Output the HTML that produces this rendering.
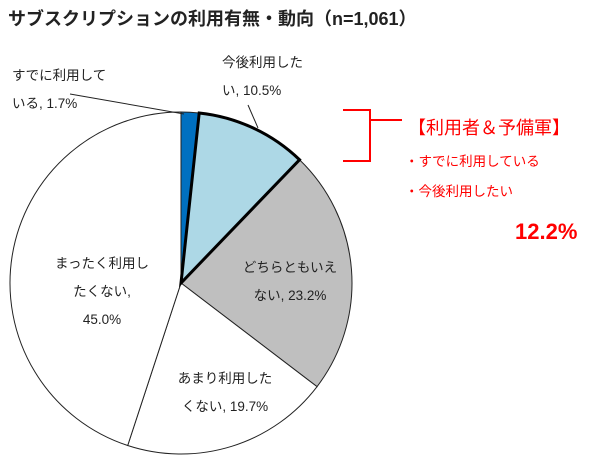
<!DOCTYPE html>
<html><head><meta charset="utf-8"><style>
body{margin:0;background:#fff;width:600px;height:467px;overflow:hidden;font-family:"Liberation Sans","Noto Sans CJK JP",sans-serif;}
</style></head><body>
<svg width="600" height="467" style="font-family:'Liberation Sans','Noto Sans CJK JP',sans-serif">
<text x="8" y="25" font-size="18" font-weight="bold" fill="#222">サブスクリプションの利用有無・動向（n=1,061）</text>
<g id="slices"></g>
<g id="labels" font-size="13.5" fill="#222"></g>
<line x1="70" y1="94" x2="184" y2="114" stroke="#222" stroke-width="1"/>
<line x1="248" y1="105" x2="258" y2="128" stroke="#222" stroke-width="1"/>
<path d="M343 110 H370 V161 H343 M370 120 H402" fill="none" stroke="#f00" stroke-width="2"/>
<text x="408" y="134" font-size="18" fill="#f00">【利用者＆予備軍】</text>
<text x="405" y="166" font-size="13.5" fill="#f00">・すでに利用している</text>
<text x="405" y="196" font-size="13.5" fill="#f00">・今後利用したい</text>
<text x="515" y="239" font-size="22" font-weight="bold" fill="#f00">12.2%</text>
</svg>
<script>
const categories=["すでに利用している","今後利用したい","どちらともいえない","あまり利用したくない","まったく利用したくない"];
const values=[1.7,10.5,23.2,19.7,45.0];
const colors=["#0070c0","#add8e6","#bfbfbf","#ffffff","#ffffff"];
const labelLines=[["すでに利用して","いる, 1.7%"],["今後利用した","い, 10.5%"],["どちらともいえ","ない, 23.2%"],["あまり利用した","くない, 19.7%"],["まったく利用し","たくない,","45.0%"]];
const labelPos=[[12,80,"start"],[222,67,"start"],[290,272,"middle"],[225,383,"middle"],[102,268,"middle"]];
const cx=181,cy=283,r=171;
const ns="http://www.w3.org/2000/svg";
const total=values.reduce((a,b)=>a+b,0);
function pt(frac){const a=frac*2*Math.PI;return [cx+r*Math.sin(a),cy-r*Math.cos(a)];}
let acc=0;const g=document.getElementById('slices');
const paths=[];
values.forEach((v,i)=>{
 const s=acc/total,e=(acc+v)/total;acc+=v;
 const p0=pt(s),p1=pt(e);const large=(e-s)>0.5?1:0;
 const p=document.createElementNS(ns,'path');
 p.setAttribute('d',`M${cx},${cy} L${p0[0]},${p0[1]} A${r},${r} 0 ${large} 1 ${p1[0]},${p1[1]} Z`);
 p.setAttribute('fill',colors[i]);
 p.setAttribute('stroke',i==1?'#000':'#222');
 p.setAttribute('stroke-width',i==1?3:1);
 
 
 paths.push(p);
});
paths.forEach((p,i)=>{if(i!=1)g.appendChild(p);});g.appendChild(paths[1]);
const lg=document.getElementById('labels');
labelLines.forEach((lines,i)=>{
 lines.forEach((t,j)=>{
  const tx=document.createElementNS(ns,'text');
  tx.setAttribute('x',labelPos[i][0]);tx.setAttribute('y',labelPos[i][1]+j*28);
  tx.setAttribute('text-anchor',labelPos[i][2]);
  tx.textContent=t;
  
  
  lg.appendChild(tx);
 });
});
</script>
</body></html>
